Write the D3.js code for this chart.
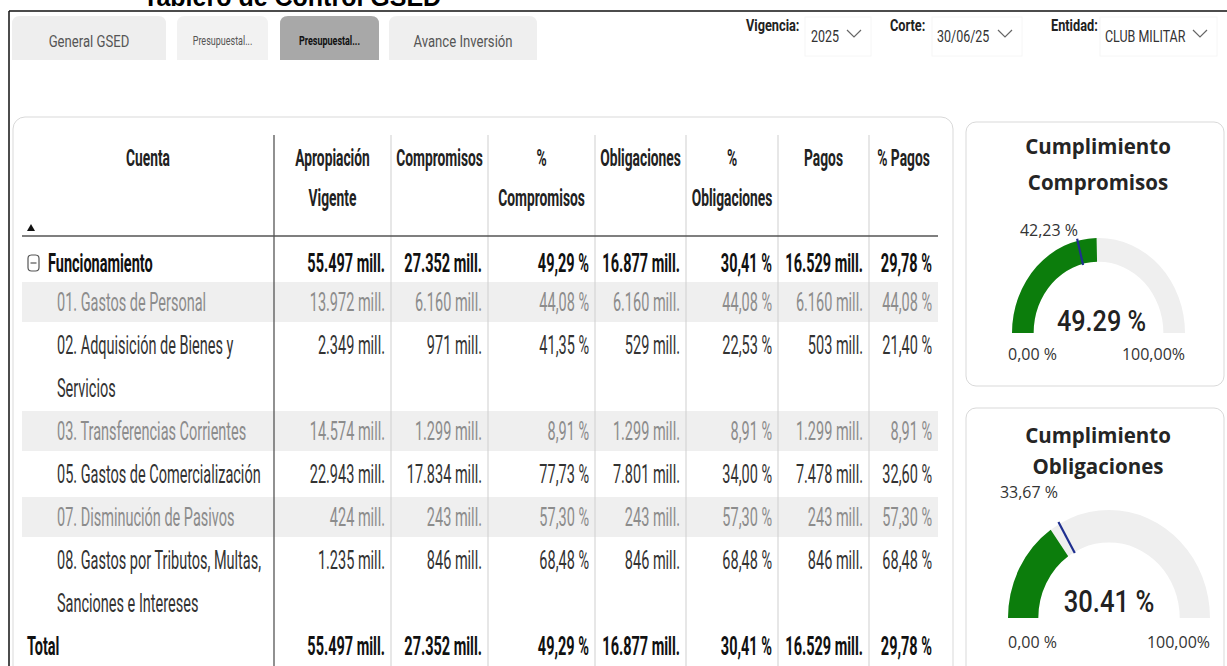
<!DOCTYPE html>
<html>
<head>
<meta charset="utf-8">
<script src="https://cdn.jsdelivr.net/npm/d3@7"></script>
<style>
  body { margin: 0; background: #fff; }
  svg { display: block; }
</style>
</head>
<body>
<svg id="vis"></svg>
<script>
// ---- data ----
var cuentas = ["Funcionamiento", "01. Gastos de Personal", "02. Adquisición de Bienes y Servicios",
    "03. Transferencias Corrientes", "05. Gastos de Comercialización", "07. Disminución de Pasivos",
    "08. Gastos por Tributos, Multas, Sanciones e Intereses", "Total"];
var apropiacion = [55497, 13972, 2349, 14574, 22943, 424, 1235, 55497];
var compromisos = [27352, 6160, 971, 1299, 17834, 243, 846, 27352];
var pctCompromisos = [49.29, 44.08, 41.35, 8.91, 77.73, 57.30, 68.48, 49.29];
var obligaciones = [16877, 6160, 529, 1299, 7801, 243, 846, 16877];
var pctObligaciones = [30.41, 44.08, 22.53, 8.91, 34.00, 57.30, 68.48, 30.41];
var pagos = [16529, 6160, 503, 1299, 7478, 243, 846, 16529];
var pctPagos = [29.78, 44.08, 21.40, 8.91, 32.60, 57.30, 68.48, 29.78];
var encabezados = [["Cuenta"], ["Apropiación", "Vigente"], ["Compromisos"], ["%", "Compromisos"],
    ["Obligaciones"], ["%", "Obligaciones"], ["Pagos"], ["% Pagos"]];

var gaugeTitulos = [["Cumplimiento", "Compromisos"], ["Cumplimiento", "Obligaciones"]];
var gaugeValores = [49.29, 30.41];
var gaugeMetas = [42.23, 33.67];
var gaugeMin = 0, gaugeMax = 100;

var pestanas = ["General GSED", "Presupuestal...", "Presupuestal...", "Avance Inversión"];
var filtros = [["Vigencia:", "2025"], ["Corte:", "30/06/25"], ["Entidad:", "CLUB MILITAR"]];

// ---- setup ----
var W = 1227, H = 666;
var TF = "Roboto, 'Liberation Sans', sans-serif";
var GF = "'Open Sans', 'Noto Sans', sans-serif";
var SX = 0.58;

var es = d3.formatLocale({ decimal: ",", thousands: ".", grouping: [3], currency: ["$", ""] });
var fmtMill = function (v) { return es.format(",d")(v) + " mill."; };
var fmtPct = function (v) { return es.format(".2f")(v) + " %"; };

var svg = d3.select("#vis").attr("width", W).attr("height", H);

function stext(parent, x, y, str, o) {
    return parent.append("text")
        .attr("transform", "translate(" + x + "," + y + ") scale(" + (o.sx || 1) + ",1)")
        .attr("text-anchor", o.anchor || "start")
        .style("font-family", o.font || TF)
        .style("font-size", o.size + "px")
        .style("font-weight", o.weight || 400)
        .attr("fill", o.color || "#333")
        .text(str);
}

// title cut at top + frame
stext(svg, 143, 6, "Tablero de Control GSED", { size: 25, weight: 700, color: "#000", font: "'Liberation Sans', Arial, sans-serif" });
stext(svg, 112, 4, "•", { size: 18, weight: 700, color: "#000" });
svg.append("line").attr("x1", 9).attr("y1", 11).attr("x2", W).attr("y2", 11).attr("stroke", "#111").attr("stroke-width", 1.5);
svg.append("line").attr("x1", 9).attr("y1", 11).attr("x2", 9).attr("y2", H).attr("stroke", "#111").attr("stroke-width", 1.5);

// tabs
var tabX = [[12, 166], [177, 268], [280, 379], [389, 537]];
var tabFill = ["#eeeeee", "#f2f2f2", "#a8a8a8", "#efefef"];
function tabPath(x0, x1, y0, y1, r) {
    return "M" + x0 + "," + y1 + "V" + (y0 + r) + "Q" + x0 + "," + y0 + " " + (x0 + r) + "," + y0 +
        "H" + (x1 - r) + "Q" + x1 + "," + y0 + " " + x1 + "," + (y0 + r) + "V" + y1 + "Z";
}
pestanas.forEach(function (t, i) {
    svg.append("path").attr("d", tabPath(tabX[i][0], tabX[i][1], 16, 60, 8)).attr("fill", tabFill[i]);
    var small = (i == 1 || i == 2);
    stext(svg, (tabX[i][0] + tabX[i][1]) / 2, small ? 45 : 47, t, {
        anchor: "middle", size: small ? 12 : 16, sx: small ? 0.75 : 0.82,
        weight: i == 2 ? 700 : 400, color: i == 2 ? "#111" : "#555"
    });
});

// filters
var filtroX = [[746, 811, 805, 871], [890, 937, 932, 1022], [1051, 1105, 1100, 1217]];
filtros.forEach(function (f, i) {
    var fx = filtroX[i];
    svg.append("rect").attr("x", fx[2]).attr("y", 17).attr("width", fx[3] - fx[2]).attr("height", 39)
        .attr("fill", "none").attr("stroke", "#f6f6f6");
    stext(svg, fx[0], 31, f[0], { size: 17, weight: 700, sx: 0.75, color: "#222" });
    stext(svg, fx[1], 42, f[1], { size: 16, sx: 0.78, color: "#333" });
    var cx = fx[3] - 17;
    svg.append("path").attr("d", "M" + (cx - 7) + ",30L" + cx + ",37L" + (cx + 7) + ",30")
        .attr("fill", "none").attr("stroke", "#666").attr("stroke-width", 1.2);
});

// ---- table ----
svg.append("rect").attr("x", 13).attr("y", 117).attr("width", 940).attr("height", 600).attr("rx", 12)
    .attr("fill", "#fff").attr("stroke", "#d9d9d9");

var colEdges = [22, 274, 391, 488, 595, 686, 778, 869, 938];
var columnas = [apropiacion, compromisos, pctCompromisos, obligaciones, pctObligaciones, pagos, pctPagos];
var formatos = [fmtMill, fmtMill, fmtPct, fmtMill, fmtPct, fmtMill, fmtPct];
var lineH = 43, bodySize = 25, maxLabelW = 222;

// wrap labels by measured width
function wrapLabel(label) {
    var words = label.split(" "), lines = [], cur = "";
    var probe = stext(svg, 0, -100, "", { size: bodySize, sx: SX });
    words.forEach(function (w) {
        var test = cur ? cur + " " + w : w;
        probe.text(test);
        if (probe.node().getComputedTextLength() * SX > maxLabelW && cur) { lines.push(cur); cur = w; }
        else cur = test;
    });
    lines.push(cur);
    probe.remove();
    return lines;
}

var rows = cuentas.map(function (c, i) { return { i: i, lines: wrapLabel(c) }; });
var yCursor = 236;
rows.forEach(function (r, i) {
    r.h = i == 0 ? 46 : r.lines.length * lineH;
    r.top = yCursor;
    r.off = i == 0 ? 27 : 20;
    yCursor += r.h;
});
var last = cuentas.length - 1;

var body = svg.append("g");
// shaded bands
body.selectAll("rect.band").data(rows.filter(function (r) { return r.i % 2 == 1 && r.i != last; }))
    .enter().append("rect").attr("class", "band")
    .attr("x", colEdges[0]).attr("y", function (r) { return r.top; })
    .attr("width", colEdges[colEdges.length - 1] - colEdges[0])
    .attr("height", function (r) { return r.h - 3; })
    .attr("fill", "#efefef");

// separators
colEdges.slice(1, -1).forEach(function (x, k) {
    svg.append("line").attr("x1", x).attr("x2", x).attr("y1", 135).attr("y2", H)
        .attr("stroke", k == 0 ? "#555" : "#cfcfcf").attr("stroke-width", k == 0 ? 1.3 : 1);
});
svg.append("line").attr("x1", colEdges[0]).attr("x2", colEdges[colEdges.length - 1])
    .attr("y1", 236).attr("y2", 236).attr("stroke", "#555").attr("stroke-width", 1.5);

// header
encabezados.forEach(function (h, k) {
    var cx = (colEdges[k] + colEdges[k + 1]) / 2;
    h.forEach(function (t, j) {
        stext(svg, cx, 166 + j * 40, t, { anchor: "middle", size: 23, weight: 700, sx: 0.6, color: "#222" });
    });
});
svg.append("path").attr("d", "M27,231L35,231L31,224Z").attr("fill", "#111");

// body text
rows.forEach(function (r) {
    var i = r.i;
    var bold = (i == 0 || i == last);
    var shaded = (i % 2 == 1 && i != last);
    var color = bold ? "#111" : (shaded ? "#8c8c8c" : "#333");
    var lx = i == 0 ? 48 : (i == last ? 27 : 57);
    r.lines.forEach(function (t, j) {
        stext(body, lx, r.top + r.off + 9 + j * lineH, t, { size: bodySize, sx: SX, weight: bold ? 700 : 400, color: color });
    });
    columnas.forEach(function (col, k) {
        stext(body, colEdges[k + 2] - 6, r.top + r.off + 9, formatos[k](col[i]),
            { anchor: "end", size: bodySize, sx: SX, weight: bold ? 700 : 400, color: color });
    });
});
// expand icon
var f0 = rows[0].top + rows[0].off;
body.append("rect").attr("x", 28).attr("y", f0 - 8).attr("width", 11).attr("height", 16).attr("rx", 3.5)
    .attr("fill", "none").attr("stroke", "#555").attr("stroke-width", 1.2);
body.append("line").attr("x1", 30.5).attr("x2", 36.5).attr("y1", f0).attr("y2", f0).attr("stroke", "#555").attr("stroke-width", 1.2);

// ---- gauges ----
var gLayout = [
    { card: [966, 122, 258, 264], cx: 1098.5, cy: 333, rx: 86.5, ry: 95, inner: 0.75, titleY: [154, 190],
      valSize: 29, valSX: 0.87, valY: 331, valDX: 3, tgtX: 1078, tgtY: 236, endY: 360, minX: 1008, maxX: 1185 },
    { card: [966, 408, 258, 270], cx: 1109, cy: 618, rx: 101, ry: 108, inner: 0.70, titleY: [443, 474],
      valSize: 32, valSX: 0.8, valY: 612, valDX: 0, tgtX: 1058, tgtY: 498, endY: 648, minX: 1008, maxX: 1210 }
];
var ang = d3.scaleLinear().domain([gaugeMin, gaugeMax]).range([-Math.PI / 2, Math.PI / 2]);

gaugeValores.forEach(function (v, i) {
    var L = gLayout[i];
    svg.append("rect").attr("x", L.card[0]).attr("y", L.card[1]).attr("width", L.card[2]).attr("height", L.card[3])
        .attr("rx", 10).attr("fill", "#fff").attr("stroke", "#d9d9d9");
    var cxT = L.card[0] + L.card[2] / 2 + 3;
    gaugeTitulos[i].forEach(function (t, j) {
        stext(svg, cxT, L.titleY[j], t, { anchor: "middle", size: 20.5, weight: 700, font: GF, color: "#252525" });
    });
    var g = svg.append("g").attr("transform", "translate(" + L.cx + "," + L.cy + ") scale(1," + (L.ry / L.rx) + ")");
    var arc = d3.arc().innerRadius(L.rx * L.inner).outerRadius(L.rx);
    g.append("path").attr("d", arc({ startAngle: ang(gaugeMin), endAngle: ang(gaugeMax) })).attr("fill", "#efefef");
    g.append("path").attr("d", arc({ startAngle: ang(gaugeMin), endAngle: ang(v) })).attr("fill", "#0c7d0c");
    var a = ang(gaugeMetas[i]);
    var r0 = L.rx * L.inner - 1, r1 = L.rx + 2;
    g.append("line")
        .attr("x1", r0 * Math.sin(a)).attr("y1", -r0 * Math.cos(a))
        .attr("x2", r1 * Math.sin(a)).attr("y2", -r1 * Math.cos(a))
        .attr("stroke", "#1f2f8f").attr("stroke-width", 2.2).attr("vector-effect", "non-scaling-stroke");
    stext(svg, L.tgtX, L.tgtY, fmtPct(gaugeMetas[i]), { anchor: "end", size: 16, font: GF, color: "#333" });
    stext(svg, L.cx + L.valDX, L.valY, d3.format(".2f")(v) + " %", { anchor: "middle", size: L.valSize, sx: L.valSX, weight: 500, color: "#222" });
    stext(svg, L.minX, L.endY, fmtPct(gaugeMin), { size: 16, font: GF, color: "#333" });
    stext(svg, L.maxX, L.endY, es.format(".2f")(gaugeMax) + "%", { anchor: "end", size: 16, font: GF, color: "#333" });
});
</script>
</body>
</html>
